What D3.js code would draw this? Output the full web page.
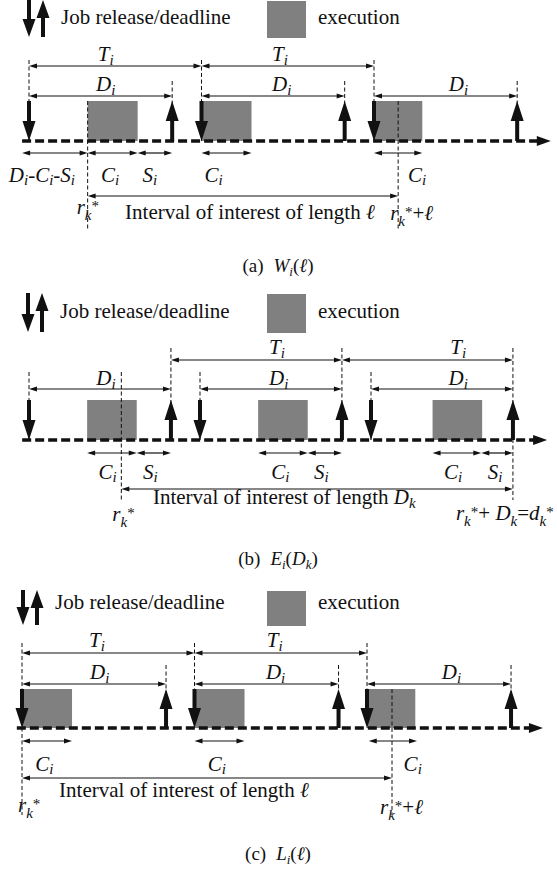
<!DOCTYPE html>
<html>
<head>
<meta charset="utf-8">
<script src="https://cdn.jsdelivr.net/npm/d3@7"></script>
<style>
body { margin: 0; background: #fff; }
svg text { font-family: "Liberation Serif", "Times New Roman", serif; fill: #111; }
</style>
</head>
<body>
<svg id="fig" width="557" height="871"></svg>
<script>
// time values in abstract units, one period T_i = 10

// (a) W_i(l)
const releasesA = [0, 10, 20];
const deadlinesA = [8.3, 18.3, 28.3];
const execA = [[3.4, 6.3], [10, 12.9], [20, 22.8]];
const periodSpansA = [[0, 10, 4.45], [10, 20, 14.55]];         // [from, to, label at]
const deadlineSpansA = [[0, 8.3, 4.45], [10, 18.3, 14.65], [20, 28.3, 24.9]];
const lowerSpansA = [[-0.4, 3.4, 0.75, "D_i-C_i-S_i"], [3.4, 6.3, 4.7, "C_i"], [6.3, 8.3, 7.0, "S_i"],
                     [10, 12.9, 10.7, "C_i"], [20, 22.8, 22.5, "C_i"]];
const windowA = [3.4, 21.4];

// (b) E_i(D_k)
const releasesB = [0, 10, 20];
const deadlinesB = [8.3, 18.3, 28.3];
const execB = [[3.4, 6.3], [13.4, 16.3], [23.6, 26.5]];
const periodSpansB = [[8.3, 18.3, 14.5], [18.3, 28.3, 25.1]];
const deadlineSpansB = [[0, 8.3, 4.5], [10, 18.3, 14.6], [20, 28.3, 25.1]];
const lowerSpansB = [[3.4, 6.3, 4.6, "C_i"], [6.3, 8.3, 7.1, "S_i"], [13.4, 16.3, 14.7, "C_i"],
                     [16.3, 18.3, 17.1, "S_i"], [23.6, 26.45, 24.8, "C_i"], [26.45, 28.3, 27.25, "S_i"]];
const windowB = [5.4, 28.3];

// (c) L_i(l)
const releasesC = [0, 10, 20];
const deadlinesC = [8.35, 18.35, 28.35];
const execC = [[0, 2.9], [10, 12.9], [20, 22.8]];
const periodSpansC = [[0, 10, 4.35], [10, 20, 14.65]];
const deadlineSpansC = [[0, 8.35, 4.5], [10, 18.35, 14.7], [20, 28.35, 24.9]];
const lowerSpansC = [[0, 2.9, 1.3, "C_i"], [10, 12.9, 11.3, "C_i"], [20.1, 22.9, 22.65, "C_i"]];
const windowC = [0, 21.45];

const panels = [
  { rel: releasesA, dl: deadlinesA, exec: execA, per: periodSpansA, dsp: deadlineSpansA, under: lowerSpansA, win: windowA,
    x0: 29, x10: 201.5, axis: [-0.4, 30.25],
    leg: [0, 37, 24], legX: [29, 43, 61],
    tLab: 61, tArr: 66, tTop: 60, dLab: 91, dArr: 96, dTop: 81, box: 101, ax: 141,
    lowY: 153, lowLab: 182, intArr: 196, intText: 219, intTextAt: 5.57, rL: 214, rR: 220, dashBot: 230,
    winTop: [101, 101], rLdx: -11, rRdx: -8,
    intLabel: "ℓ", endLabel: "r_k^*+ℓ", cap: 272, capPre: "(a)", capMath: "W_i(ℓ)" },
  { rel: releasesB, dl: deadlinesB, exec: execB, per: periodSpansB, dsp: deadlineSpansB, under: lowerSpansB, win: windowB,
    x0: 29, x10: 200, axis: [-0.4, 30.3],
    leg: [293, 332, 318], legX: [28, 42, 60],
    tLab: 354, tArr: 360, tTop: 348, dLab: 385, dArr: 389, dTop: 372, box: 400, ax: 440,
    lowY: 453, lowLab: 479, intArr: 489, intText: 504, intTextAt: 7.25, rL: 521, rR: 520, dashBot: 500,
    winTop: [372, 348], rLdx: -9, rRdx: -57,
    intLabel: "D_k", endLabel: "r_k^*+ D_k=d_k^*", cap: 565, capPre: "(b)", capMath: "E_i(D_k)" },
  { rel: releasesC, dl: deadlinesC, exec: execC, per: periodSpansC, dsp: deadlineSpansC, under: lowerSpansC, win: windowC,
    x0: 22, x10: 194.5, axis: [-0.3, 30.2],
    leg: [590, 625, 609], legX: [23, 37, 55],
    tLab: 647, tArr: 653, tTop: 643, dLab: 679, dArr: 684, dTop: 665, box: 689, ax: 728,
    lowY: 741, lowLab: 771, intArr: 778, intText: 797, intTextAt: 2.15, rL: 812, rR: 814, dashBot: 815,
    winTop: [643, 689], rLdx: -4, rRdx: -12,
    intLabel: "ℓ", endLabel: "r_k^*+ℓ", cap: 860, capPre: "(c)", capMath: "L_i(ℓ)" }
];

const svg = d3.select("#fig");
const INK = "#111", GRAY = "#808080";
const FS = 21;

//////////////////////////////////
// text with _sub and ^sup, letters in italics
function drawMath(g, x, y, str, opt) {
  opt = opt || {};
  const size = opt.size || FS, small = opt.small || Math.round(size * 0.7);
  const subDy = opt.subDy || 3.5;
  const t = g.append("text").attr("x", x).attr("y", y)
    .attr("text-anchor", opt.anchor || "middle")
    .style("font-size", size + "px");
  if (opt.pre) t.append("tspan").text(opt.pre);
  const runs = [];
  for (let i = 0; i < str.length; i++) {
    let c = str[i], mode = "base";
    if (c === "_" || c === "^") { mode = c === "_" ? "sub" : "sup"; c = str[++i]; }
    const it = /[A-Za-zℓ]/.test(c);
    const last = runs[runs.length - 1];
    if (last && last.mode === mode && last.it === it) last.s += c;
    else runs.push({ s: c, mode: mode, it: it });
  }
  let shift = 0;
  runs.forEach(function(r, i) {
    const target = r.mode === "sub" ? subDy : r.mode === "sup" ? -3 : 0;
    const ts = t.append("tspan")
      .attr("dy", target - shift)
      .style("font-style", r.it ? "italic" : "normal")
      .style("font-size", (r.mode === "base" ? size : small) + "px")
      .text(r.s);
    if (i === 0 && opt.gap) ts.attr("dx", opt.gap);
    shift = target;
  });
  return t;
}

//////////////////////////////////
function bigArrow(g, x, y1, y2, up, hl) {
  hl = hl || 20;
  const sw = 2, hw = 6.5;
  let d;
  if (!up) {
    d = "M" + (x - sw) + "," + y1 + "H" + (x + sw) + "V" + (y2 - hl) + "H" + (x + hw) +
        "L" + x + "," + y2 + "L" + (x - hw) + "," + (y2 - hl) + "H" + (x - sw) + "Z";
  } else {
    d = "M" + (x - sw) + "," + y2 + "H" + (x + sw) + "V" + (y1 + hl) + "H" + (x + hw) +
        "L" + x + "," + y1 + "L" + (x - hw) + "," + (y1 + hl) + "H" + (x - sw) + "Z";
  }
  g.append("path").attr("d", d).attr("fill", INK);
}

//////////////////////////////////
function thinArrow(g, x1, x2, y) {
  const hl = 8, hw = 2.6;
  g.append("line").attr("x1", x1 + hl - 1).attr("x2", x2 - hl + 1).attr("y1", y).attr("y2", y)
    .attr("stroke", INK).attr("stroke-width", 1.2);
  g.append("path").attr("fill", INK)
    .attr("d", "M" + x1 + "," + y + "L" + (x1 + hl) + "," + (y - hw) + "L" + (x1 + hl) + "," + (y + hw) + "Z");
  g.append("path").attr("fill", INK)
    .attr("d", "M" + x2 + "," + y + "L" + (x2 - hl) + "," + (y - hw) + "L" + (x2 - hl) + "," + (y + hw) + "Z");
}

//////////////////////////////////
function drawPanel(p) {
  const g = svg.append("g");
  const x = d3.scaleLinear().domain([0, 10]).range([p.x0, p.x10]);

  // legend
  bigArrow(g, p.legX[0], p.leg[0], p.leg[1], false, 18);
  bigArrow(g, p.legX[1], p.leg[0], p.leg[1], true, 18);
  g.append("text").attr("x", p.legX[2]).attr("y", p.leg[2]).style("font-size", FS + "px")
    .text("Job release/deadline");
  g.append("rect").attr("x", 267).attr("y", p.leg[0] + 1).attr("width", 39).attr("height", p.leg[1] - p.leg[0])
    .attr("fill", GRAY);
  g.append("text").attr("x", 318).attr("y", p.leg[2]).style("font-size", FS + "px").text("execution");

  // execution boxes
  g.selectAll("rect.exec").data(p.exec).enter().append("rect")
    .attr("class", "exec")
    .attr("x", function(e) { return x(e[0]); })
    .attr("width", function(e) { return x(e[1]) - x(e[0]); })
    .attr("y", p.box).attr("height", p.ax - p.box)
    .attr("fill", GRAY);

  // dashed guide lines
  const guides = new Map();
  p.per.forEach(function(s) { [s[0], s[1]].forEach(function(t) { guides.set(t, { top: p.tTop, bot: p.ax }); }); });
  p.dsp.forEach(function(s) { [s[0], s[1]].forEach(function(t) { if (!guides.has(t)) guides.set(t, { top: p.dTop, bot: p.ax }); }); });
  p.win.forEach(function(t, i) {
    if (guides.has(t)) guides.get(t).bot = p.dashBot;
    else guides.set(t, { top: p.winTop[i], bot: p.dashBot });
  });
  g.selectAll("line.guide").data(Array.from(guides.entries())).enter().append("line")
    .attr("class", "guide")
    .attr("x1", function(d) { return x(d[0]); }).attr("x2", function(d) { return x(d[0]); })
    .attr("y1", function(d) { return d[1].top; }).attr("y2", function(d) { return d[1].bot; })
    .attr("stroke", INK).attr("stroke-width", 1).attr("stroke-dasharray", "4,2.5");

  // time axis
  const ax0 = x(p.axis[0]), ax1 = x(p.axis[1]);
  g.append("line").attr("x1", ax0).attr("x2", ax1 - 12).attr("y1", p.ax).attr("y2", p.ax)
    .attr("stroke", INK).attr("stroke-width", 3.5).attr("stroke-dasharray", "9,4");
  g.append("path").attr("fill", INK)
    .attr("d", "M" + ax1 + "," + p.ax + "L" + (ax1 - 14) + "," + (p.ax - 5) + "L" + (ax1 - 14) + "," + (p.ax + 5) + "Z");

  // releases and deadlines
  p.rel.forEach(function(t) { bigArrow(g, x(t), p.box, p.ax, false); });
  p.dl.forEach(function(t) { bigArrow(g, x(t), p.box, p.ax, true); });

  // period and relative deadline spans
  p.per.forEach(function(s) {
    thinArrow(g, x(s[0]), x(s[1]), p.tArr);
    drawMath(g, x(s[2]), p.tLab, "T_i");
  });
  p.dsp.forEach(function(s) {
    thinArrow(g, x(s[0]), x(s[1]), p.dArr);
    drawMath(g, x(s[2]), p.dLab, "D_i");
  });

  // spans under the axis
  p.under.forEach(function(s) {
    thinArrow(g, x(s[0]), x(s[1]), p.lowY);
    drawMath(g, x(s[2]), p.lowLab, s[3], { subDy: 3 });
  });

  // interval of interest
  thinArrow(g, x(p.win[0]), x(p.win[1]), p.intArr);
  drawMath(g, x(p.intTextAt), p.intText, p.intLabel, { anchor: "start", pre: "Interval of interest of length " });
  drawMath(g, x(p.win[0]) + p.rLdx, p.rL, "r_k^*", { anchor: "start", subDy: 6 });
  drawMath(g, x(p.win[1]) + p.rRdx, p.rR, p.endLabel, { anchor: "start", subDy: 6 });

  // caption
  drawMath(g, 278, p.cap, p.capMath, { size: 19, pre: p.capPre, gap: 10 });
}

panels.forEach(drawPanel);
</script>
</body>
</html>
